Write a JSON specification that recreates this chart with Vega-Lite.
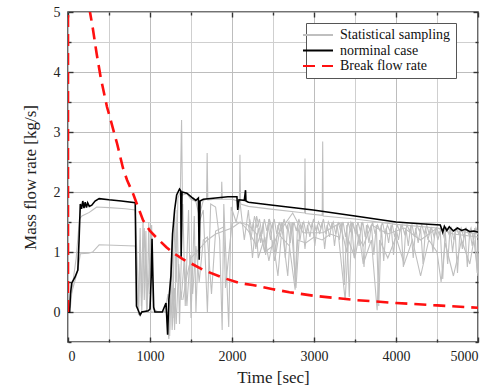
{
  "$schema": "https://vega.github.io/schema/vega-lite/v6.json",
  "autosize": {"type": "none"},
  "width": 410,
  "height": 330,
  "padding": {"left": 68, "top": 12, "right": 13, "bottom": 49},
  "background": "white",
  "config": {
    "font": "Liberation Serif",
    "view": {"stroke": "#444", "strokeWidth": 1.6},
    "axis": {
      "domain": false,
      "labelFont": "Liberation Serif",
      "titleFont": "Liberation Serif",
      "labelFontSize": 14,
      "titleFontSize": 17,
      "titleFontWeight": "normal",
      "labelColor": "#222",
      "titleColor": "#222",
      "tickColor": "#333",
      "tickWidth": 1.4,
      "format": "d"
    },
    "legend": {
      "labelFont": "Liberation Serif",
      "labelFontSize": 14,
      "labelColor": "#111"
    }
  },
  "datasets": {
    "gray": [
      {"r":1,"t":0,"v":0},{"r":1,"t":30,"v":0.1},{"r":1,"t":60,"v":0.5},{"r":1,"t":100,"v":0.9},{"r":1,"t":140,"v":1.55},{"r":1,"t":170,"v":1.6},{"r":1,"t":200,"v":1.62},{"r":1,"t":260,"v":1.66},{"r":1,"t":300,"v":1.7},{"r":1,"t":350,"v":1.75},{"r":1,"t":500,"v":1.74},{"r":1,"t":700,"v":1.72},{"r":1,"t":820,"v":1.7},{"r":1,"t":845,"v":0.8},{"r":1,"t":860,"v":0.05},{"r":1,"t":880,"v":1.4},{"r":1,"t":895,"v":0.1},{"r":1,"t":915,"v":1.55},{"r":1,"t":930,"v":0.2},{"r":1,"t":950,"v":1.35},{"r":1,"t":965,"v":0.0},{"r":1,"t":985,"v":1.5},{"r":1,"t":1000,"v":0.3},{"r":1,"t":1020,"v":1.45},{"r":1,"t":1040,"v":0.05},{"r":1,"t":1100,"v":0.0},{"r":1,"t":1180,"v":0.0},{"r":1,"t":1220,"v":0.3},{"r":1,"t":1240,"v":-0.3},{"r":1,"t":1260,"v":0.9},{"r":1,"t":1280,"v":-0.1},{"r":1,"t":1300,"v":1.7},{"r":1,"t":1320,"v":0.5},{"r":1,"t":1340,"v":1.9},{"r":1,"t":1370,"v":2.0},{"r":1,"t":1385,"v":3.2},{"r":1,"t":1395,"v":1.95},{"r":1,"t":1450,"v":1.97},{"r":1,"t":1500,"v":1.88},{"r":1,"t":1560,"v":1.84},{"r":1,"t":1600,"v":1.6},{"r":1,"t":1650,"v":1.86},{"r":1,"t":1690,"v":1.88},{"r":1,"t":1697,"v":2.65},{"r":1,"t":1705,"v":1.87},{"r":1,"t":1800,"v":1.88},{"r":1,"t":1870,"v":1.88},{"r":1,"t":1875,"v":2.17},{"r":1,"t":1882,"v":1.88},{"r":1,"t":2000,"v":1.88},{"r":1,"t":2090,"v":1.84},{"r":1,"t":2097,"v":2.62},{"r":1,"t":2105,"v":1.8},{"r":1,"t":2200,"v":1.76},{"r":1,"t":2500,"v":1.71},{"r":1,"t":2885,"v":1.65},{"r":1,"t":2890,"v":2.56},{"r":1,"t":2897,"v":1.64},{"r":1,"t":3100,"v":1.61},{"r":1,"t":3106,"v":2.84},{"r":1,"t":3112,"v":1.6},{"r":1,"t":3500,"v":1.55},{"r":1,"t":4000,"v":1.46},{"r":1,"t":4500,"v":1.4},{"r":1,"t":5000,"v":1.3},
      {"r":2,"t":0,"v":0},{"r":2,"t":40,"v":0.3},{"r":2,"t":80,"v":0.5},{"r":2,"t":120,"v":0.7},{"r":2,"t":150,"v":0.97},{"r":2,"t":250,"v":0.98},{"r":2,"t":300,"v":1.0},{"r":2,"t":380,"v":1.12},{"r":2,"t":820,"v":1.1},{"r":2,"t":840,"v":0.4},{"r":2,"t":860,"v":-0.05},{"r":2,"t":880,"v":1.2},{"r":2,"t":900,"v":0.0},{"r":2,"t":930,"v":1.4},{"r":2,"t":960,"v":0.0},{"r":2,"t":1000,"v":0.9},{"r":2,"t":1010,"v":0.0},{"r":2,"t":1200,"v":0.0},{"r":2,"t":1230,"v":-0.45},{"r":2,"t":1250,"v":0.6},{"r":2,"t":1270,"v":-0.3},{"r":2,"t":1300,"v":0.4},{"r":2,"t":1320,"v":-0.2},{"r":2,"t":1350,"v":0.8},{"r":2,"t":1380,"v":0.2},{"r":2,"t":1420,"v":0.9},{"r":2,"t":1450,"v":0.1},{"r":2,"t":1490,"v":0.95},{"r":2,"t":1520,"v":0.3},{"r":2,"t":1560,"v":1.1},{"r":2,"t":1600,"v":0.5},{"r":2,"t":1650,"v":1.2},{"r":2,"t":1700,"v":1.25},{"r":2,"t":1750,"v":0.3},{"r":2,"t":1800,"v":1.35},{"r":2,"t":1900,"v":1.42},{"r":2,"t":1920,"v":0.4},{"r":2,"t":2000,"v":1.48},{"r":2,"t":2060,"v":1.5},{"r":2,"t":2200,"v":1.45},{"r":2,"t":2300,"v":1.3},{"r":2,"t":2320,"v":0.9},{"r":2,"t":2400,"v":1.25},{"r":2,"t":2450,"v":0.85},{"r":2,"t":2500,"v":1.2},{"r":2,"t":2560,"v":0.6},{"r":2,"t":2600,"v":1.25},{"r":2,"t":2700,"v":1.1},{"r":2,"t":2770,"v":0.37},{"r":2,"t":2800,"v":1.2},{"r":2,"t":2900,"v":1.15},{"r":2,"t":3000,"v":1.25},{"r":2,"t":3100,"v":1.2},{"r":2,"t":3200,"v":1.3},{"r":2,"t":3300,"v":1.25},{"r":2,"t":3380,"v":0.2},{"r":2,"t":3420,"v":1.2},{"r":2,"t":3500,"v":0.9},{"r":2,"t":3550,"v":1.3},{"r":2,"t":3600,"v":0.8},{"r":2,"t":3700,"v":1.2},{"r":2,"t":3770,"v":0.03},{"r":2,"t":3800,"v":1.2},{"r":2,"t":3900,"v":0.9},{"r":2,"t":4000,"v":1.25},{"r":2,"t":4100,"v":0.8},{"r":2,"t":4200,"v":1.2},{"r":2,"t":4300,"v":0.6},{"r":2,"t":4400,"v":1.2},{"r":2,"t":4500,"v":1.0},{"r":2,"t":4550,"v":0.5},{"r":2,"t":4600,"v":1.15},{"r":2,"t":4700,"v":0.6},{"r":2,"t":4800,"v":1.2},{"r":2,"t":4900,"v":0.8},{"r":2,"t":4950,"v":1.2},{"r":2,"t":5000,"v":0.6},
      {"r":3,"t":1400,"v":0.2},{"r":3,"t":1450,"v":0.6},{"r":3,"t":1500,"v":0.9},{"r":3,"t":1600,"v":1.05},{"r":3,"t":1700,"v":1.2},{"r":3,"t":1800,"v":1.3},{"r":3,"t":1900,"v":1.35},{"r":3,"t":2000,"v":1.4},{"r":3,"t":2100,"v":1.5},{"r":3,"t":2200,"v":1.35},{"r":3,"t":2300,"v":1.1},{"r":3,"t":2350,"v":1.3},{"r":3,"t":2400,"v":1.0},{"r":3,"t":2500,"v":1.1},{"r":3,"t":2560,"v":1.3},{"r":3,"t":2740,"v":1.65},{"r":3,"t":2866,"v":1.32},{"r":3,"t":3110,"v":1.32},{"r":3,"t":3317,"v":1.48},{"r":3,"t":3400,"v":1.0},{"r":3,"t":3450,"v":1.5},{"r":3,"t":3600,"v":1.1},{"r":3,"t":3700,"v":1.45},{"r":3,"t":3900,"v":1.3},{"r":3,"t":4100,"v":1.4},{"r":3,"t":4300,"v":1.2},{"r":3,"t":4500,"v":1.4},{"r":3,"t":4700,"v":1.3},{"r":3,"t":5000,"v":1.25},
      {"r":4,"t":1240,"v":-0.4},{"r":4,"t":1270,"v":1.2},{"r":4,"t":1300,"v":-0.3},{"r":4,"t":1330,"v":1.7},{"r":4,"t":1360,"v":-0.2},{"r":4,"t":1400,"v":1.8},{"r":4,"t":1430,"v":0.1},{"r":4,"t":1470,"v":1.7},{"r":4,"t":1500,"v":-0.1},{"r":4,"t":1540,"v":1.6},{"r":4,"t":1560,"v":0.0},{"r":4,"t":1600,"v":1.5},{"r":4,"t":1650,"v":1.7},{"r":4,"t":1700,"v":0.0},{"r":4,"t":1740,"v":1.8},{"r":4,"t":1800,"v":1.75},{"r":4,"t":1850,"v":1.2},{"r":4,"t":1880,"v":-0.3},{"r":4,"t":1900,"v":1.8},{"r":4,"t":1960,"v":-0.25},{"r":4,"t":1990,"v":1.75},{"r":4,"t":2050,"v":1.5},{"r":4,"t":2100,"v":1.8},{"r":4,"t":2150,"v":1.2},{"r":4,"t":2200,"v":1.7},{"r":4,"t":2250,"v":0.9},{"r":4,"t":2300,"v":1.6},{"r":4,"t":2400,"v":1.0},{"r":4,"t":2450,"v":1.55},{"r":4,"t":2520,"v":0.85},{"r":4,"t":2600,"v":1.5},{"r":4,"t":2680,"v":0.6},{"r":4,"t":2720,"v":1.5},{"r":4,"t":2780,"v":0.4},{"r":4,"t":2830,"v":1.45},
      {"r":5,"t":2200,"v":1.45},{"r":5,"t":2230,"v":1.2},{"r":5,"t":2260,"v":1.5},{"r":5,"t":2290,"v":1.05},{"r":5,"t":2320,"v":1.4},{"r":5,"t":2350,"v":1.15},{"r":5,"t":2380,"v":1.5},{"r":5,"t":2410,"v":0.95},{"r":5,"t":2440,"v":1.45},{"r":5,"t":2470,"v":1.2},{"r":5,"t":2500,"v":1.5},{"r":5,"t":2530,"v":1.0},{"r":5,"t":2560,"v":1.45},{"r":5,"t":2590,"v":1.25},{"r":5,"t":2620,"v":1.5},{"r":5,"t":2650,"v":0.9},{"r":5,"t":2680,"v":1.45},{"r":5,"t":2710,"v":1.15},{"r":5,"t":2740,"v":1.5},{"r":5,"t":2770,"v":0.5},{"r":5,"t":2800,"v":1.45},{"r":5,"t":2830,"v":1.2},{"r":5,"t":2860,"v":1.5},{"r":5,"t":2890,"v":1.05},{"r":5,"t":2920,"v":1.45},{"r":5,"t":2950,"v":1.25},{"r":5,"t":2980,"v":1.5},{"r":5,"t":3010,"v":1.1},{"r":5,"t":3040,"v":1.45},{"r":5,"t":3070,"v":1.3},{"r":5,"t":3100,"v":1.5},{"r":5,"t":3130,"v":1.05},{"r":5,"t":3160,"v":1.45},{"r":5,"t":3190,"v":1.25},{"r":5,"t":3220,"v":1.5},{"r":5,"t":3250,"v":1.1},{"r":5,"t":3280,"v":1.45},{"r":5,"t":3310,"v":1.2},{"r":5,"t":3340,"v":1.5},{"r":5,"t":3370,"v":0.45},{"r":5,"t":3400,"v":1.45},{"r":5,"t":3430,"v":0.25},{"r":5,"t":3460,"v":1.5},{"r":5,"t":3490,"v":0.9},{"r":5,"t":3520,"v":1.45},{"r":5,"t":3550,"v":1.1},{"r":5,"t":3580,"v":1.5},{"r":5,"t":3610,"v":0.75},{"r":5,"t":3640,"v":1.45},{"r":5,"t":3670,"v":1.15},{"r":5,"t":3700,"v":1.45},{"r":5,"t":3730,"v":0.95},{"r":5,"t":3760,"v":1.45},{"r":5,"t":3790,"v":0.1},{"r":5,"t":3820,"v":1.45},{"r":5,"t":3850,"v":0.85},{"r":5,"t":3880,"v":1.4},{"r":5,"t":3910,"v":1.15},{"r":5,"t":3940,"v":1.45},{"r":5,"t":3970,"v":0.95},{"r":5,"t":4000,"v":1.4},{"r":5,"t":4030,"v":1.2},{"r":5,"t":4060,"v":1.45},{"r":5,"t":4090,"v":0.75},{"r":5,"t":4120,"v":1.4},{"r":5,"t":4150,"v":1.1},{"r":5,"t":4180,"v":1.45},{"r":5,"t":4210,"v":0.9},{"r":5,"t":4240,"v":1.4},{"r":5,"t":4270,"v":1.15},{"r":5,"t":4300,"v":1.4},{"r":5,"t":4330,"v":0.8},{"r":5,"t":4360,"v":1.4},{"r":5,"t":4390,"v":1.2},{"r":5,"t":4420,"v":1.4},{"r":5,"t":4450,"v":1.0},{"r":5,"t":4480,"v":1.4},{"r":5,"t":4510,"v":1.2},{"r":5,"t":4540,"v":1.35},{"r":5,"t":4570,"v":0.55},{"r":5,"t":4600,"v":1.35},{"r":5,"t":4630,"v":0.8},{"r":5,"t":4660,"v":1.4},{"r":5,"t":4690,"v":1.0},{"r":5,"t":4720,"v":1.35},{"r":5,"t":4750,"v":0.65},{"r":5,"t":4780,"v":1.35},{"r":5,"t":4810,"v":1.05},{"r":5,"t":4840,"v":1.35},{"r":5,"t":4870,"v":0.75},{"r":5,"t":4900,"v":1.35},{"r":5,"t":4930,"v":1.1},{"r":5,"t":4960,"v":1.4},{"r":5,"t":4990,"v":0.65},{"r":5,"t":5000,"v":1.2},
      {"r":6,"t":2215,"v":1.55},{"r":6,"t":2245,"v":1.35},{"r":6,"t":2275,"v":1.6},{"r":6,"t":2305,"v":1.4},{"r":6,"t":2335,"v":1.55},{"r":6,"t":2365,"v":1.3},{"r":6,"t":2395,"v":1.55},{"r":6,"t":2425,"v":1.35},{"r":6,"t":2455,"v":1.55},{"r":6,"t":2485,"v":1.4},{"r":6,"t":2515,"v":1.55},{"r":6,"t":2545,"v":1.3},{"r":6,"t":2575,"v":1.5},{"r":6,"t":2605,"v":1.35},{"r":6,"t":2635,"v":1.55},{"r":6,"t":2665,"v":1.4},{"r":6,"t":2695,"v":1.5},{"r":6,"t":2725,"v":1.3},{"r":6,"t":2755,"v":1.5},{"r":6,"t":2785,"v":1.35},{"r":6,"t":2815,"v":1.55},{"r":6,"t":2845,"v":1.4},{"r":6,"t":2875,"v":1.5},{"r":6,"t":2905,"v":1.3},{"r":6,"t":2935,"v":1.5},{"r":6,"t":2965,"v":1.4},{"r":6,"t":2995,"v":1.55},{"r":6,"t":3025,"v":1.35},{"r":6,"t":3055,"v":1.5},{"r":6,"t":3085,"v":1.4},{"r":6,"t":3115,"v":1.55},{"r":6,"t":3145,"v":1.3},{"r":6,"t":3175,"v":1.5},{"r":6,"t":3205,"v":1.4},{"r":6,"t":3235,"v":1.5},{"r":6,"t":3265,"v":1.3},{"r":6,"t":3295,"v":1.5},{"r":6,"t":3325,"v":1.35},{"r":6,"t":3355,"v":1.5},{"r":6,"t":3385,"v":1.25},{"r":6,"t":3415,"v":1.5},{"r":6,"t":3445,"v":1.35},{"r":6,"t":3475,"v":1.5},{"r":6,"t":3505,"v":1.3},{"r":6,"t":3535,"v":1.5},{"r":6,"t":3565,"v":1.35},{"r":6,"t":3595,"v":1.5},{"r":6,"t":3625,"v":1.25},{"r":6,"t":3655,"v":1.45},{"r":6,"t":3685,"v":1.35},{"r":6,"t":3715,"v":1.5},{"r":6,"t":3745,"v":1.3},{"r":6,"t":3775,"v":1.45},{"r":6,"t":3805,"v":1.35},{"r":6,"t":3835,"v":1.5},{"r":6,"t":3865,"v":1.3},{"r":6,"t":3895,"v":1.45},{"r":6,"t":3925,"v":1.35},{"r":6,"t":3955,"v":1.45},{"r":6,"t":3985,"v":1.25},{"r":6,"t":4015,"v":1.45},{"r":6,"t":4045,"v":1.35},{"r":6,"t":4075,"v":1.45},{"r":6,"t":4105,"v":1.3},{"r":6,"t":4135,"v":1.45},{"r":6,"t":4165,"v":1.35},{"r":6,"t":4195,"v":1.45},{"r":6,"t":4225,"v":1.25},{"r":6,"t":4255,"v":1.45},{"r":6,"t":4285,"v":1.35},{"r":6,"t":4315,"v":1.45},{"r":6,"t":4345,"v":1.3},{"r":6,"t":4375,"v":1.45},{"r":6,"t":4405,"v":1.3},{"r":6,"t":4435,"v":1.4},{"r":6,"t":4465,"v":1.25},{"r":6,"t":4495,"v":1.4},{"r":6,"t":4525,"v":1.3},{"r":6,"t":4555,"v":1.4},{"r":6,"t":4585,"v":1.25},{"r":6,"t":4615,"v":1.4},{"r":6,"t":4645,"v":1.3},{"r":6,"t":4675,"v":1.4},{"r":6,"t":4705,"v":1.2},{"r":6,"t":4735,"v":1.4},{"r":6,"t":4765,"v":1.3},{"r":6,"t":4795,"v":1.4},{"r":6,"t":4825,"v":1.25},{"r":6,"t":4855,"v":1.4},{"r":6,"t":4885,"v":1.3},{"r":6,"t":4915,"v":1.4},{"r":6,"t":4945,"v":1.2},{"r":6,"t":4975,"v":1.4},{"r":6,"t":5000,"v":1.3}
    ],
    "black": [
      {"t":0,"v":0},{"t":20,"v":0.0},{"t":30,"v":0.3},{"t":45,"v":0.48},{"t":85,"v":0.58},{"t":120,"v":0.7},{"t":135,"v":1.2},{"t":150,"v":1.8},{"t":165,"v":1.72},{"t":180,"v":1.85},{"t":195,"v":1.73},{"t":210,"v":1.83},{"t":225,"v":1.74},{"t":240,"v":1.82},{"t":260,"v":1.76},{"t":290,"v":1.78},{"t":330,"v":1.85},{"t":380,"v":1.89},{"t":500,"v":1.87},{"t":650,"v":1.85},{"t":820,"v":1.82},{"t":835,"v":0.1},{"t":850,"v":0.05},{"t":880,"v":-0.05},{"t":900,"v":0.0},{"t":980,"v":0.02},{"t":1000,"v":0.05},{"t":1015,"v":0.6},{"t":1025,"v":1.22},{"t":1035,"v":0.6},{"t":1045,"v":0.08},{"t":1060,"v":0.0},{"t":1150,"v":0.0},{"t":1180,"v":0.1},{"t":1195,"v":0.15},{"t":1205,"v":-0.1},{"t":1215,"v":-0.38},{"t":1230,"v":0.2},{"t":1255,"v":0.6},{"t":1275,"v":1.3},{"t":1300,"v":1.7},{"t":1325,"v":1.95},{"t":1360,"v":2.05},{"t":1375,"v":2.02},{"t":1380,"v":0.92},{"t":1390,"v":2.0},{"t":1450,"v":1.98},{"t":1520,"v":1.9},{"t":1560,"v":1.86},{"t":1590,"v":1.9},{"t":1600,"v":0.87},{"t":1610,"v":1.85},{"t":1650,"v":1.88},{"t":1800,"v":1.9},{"t":1950,"v":1.92},{"t":2060,"v":1.92},{"t":2070,"v":1.7},{"t":2085,"v":1.87},{"t":2150,"v":1.86},{"t":2165,"v":2.03},{"t":2170,"v":1.85},{"t":2200,"v":1.83},{"t":2500,"v":1.78},{"t":2990,"v":1.7},{"t":3500,"v":1.6},{"t":4000,"v":1.5},{"t":4300,"v":1.47},{"t":4540,"v":1.45},{"t":4570,"v":1.33},{"t":4590,"v":1.43},{"t":4620,"v":1.36},{"t":4650,"v":1.42},{"t":4700,"v":1.35},{"t":4750,"v":1.4},{"t":4800,"v":1.36},{"t":4850,"v":1.38},{"t":4900,"v":1.34},{"t":4950,"v":1.35},{"t":5000,"v":1.33}
    ],
    "red": [
      {"t":0,"v":0},{"t":0,"v":60},{"t":100,"v":14},{"t":200,"v":7},{"t":268,"v":5.0},{"t":300,"v":4.75},{"t":350,"v":4.3},{"t":400,"v":3.9},{"t":475,"v":3.42},{"t":520,"v":3.2},{"t":600,"v":2.8},{"t":670,"v":2.4},{"t":720,"v":2.2},{"t":800,"v":1.95},{"t":840,"v":1.8},{"t":915,"v":1.53},{"t":1000,"v":1.35},{"t":1085,"v":1.23},{"t":1200,"v":1.08},{"t":1300,"v":0.97},{"t":1400,"v":0.88},{"t":1500,"v":0.81},{"t":1650,"v":0.7},{"t":1890,"v":0.57},{"t":2100,"v":0.48},{"t":2250,"v":0.45},{"t":2500,"v":0.38},{"t":2700,"v":0.33},{"t":3000,"v":0.27},{"t":3500,"v":0.2},{"t":4000,"v":0.15},{"t":4500,"v":0.11},{"t":5000,"v":0.07}
    ]
  },
  "resolve": {"axis": {"x": "independent", "y": "independent"}},
  "layer": [
    {
      "data": {"name": "gray"},
      "mark": {"type": "line", "clip": true, "strokeWidth": 1.1},
      "encoding": {
        "x": {"field": "t", "type": "quantitative", "scale": {"domain": [0, 5000], "nice": false, "zero": false},
          "axis": {"orient": "bottom", "values": [0,1000,2000,3000,4000,5000], "format": "d", "title": "Time [sec]", "grid": true, "gridColor": "#bdbdbd", "gridWidth": 1, "tickSize": -5, "labelPadding": 12, "titlePadding": 6}},
        "y": {"field": "v", "type": "quantitative", "scale": {"domain": [-0.5, 5], "nice": false, "zero": false},
          "axis": {"orient": "left", "values": [0,1,2,3,4,5], "format": "d", "title": "Mass flow rate [kg/s]", "grid": true, "gridColor": "#bdbdbd", "gridWidth": 1, "tickSize": -5, "labelPadding": 13, "titlePadding": 14}},
        "detail": {"field": "r", "type": "nominal"},
        "color": {"datum": "Statistical sampling", "type": "nominal",
          "scale": {"domain": ["Statistical sampling", "norminal case", "Break flow rate"], "range": ["#bfbfbf", "#000000", "#ff1010"]},
          "legend": {"title": null, "orient": "none", "legendX": 238, "legendY": 11, "strokeColor": "#555", "fillColor": "white", "padding": 5, "symbolType": "M-3,0H3", "symbolSize": 100, "symbolStrokeWidth": 2, "labelOffset": 15, "rowPadding": 1.5, "labelFont": "Liberation Serif", "labelFontSize": 14,
            "encode": {"symbols": {"update": {"strokeDash": {"signal": "datum.value === 'Break flow rate' ? [12, 7] : [1, 0]"}}}}}}
      }
    },
    {
      "data": {"name": "black"},
      "mark": {"type": "line", "clip": true, "strokeWidth": 1.6},
      "encoding": {
        "x": {"field": "t", "type": "quantitative",
          "axis": {"orient": "bottom", "values": [500,1500,2500,3500,4500], "labels": false, "title": null, "grid": true, "gridColor": "#cfcfcf", "tickSize": -3,
            "encode": {"grid": {"update": {"strokeDash": {"value": [1, 2]}}}}}},
        "y": {"field": "v", "type": "quantitative",
          "axis": {"orient": "left", "values": [-0.5,0.5,1.5,2.5,3.5,4.5], "labels": false, "title": null, "grid": true, "gridColor": "#cfcfcf", "tickSize": -3,
            "encode": {"grid": {"update": {"strokeDash": {"value": [1, 2]}}}}}},
        "color": {"datum": "norminal case", "type": "nominal"}
      }
    },
    {
      "data": {"name": "red"},
      "mark": {"type": "line", "clip": true, "strokeWidth": 2.6, "strokeDash": [12, 7]},
      "encoding": {
        "x": {"field": "t", "type": "quantitative",
          "axis": {"orient": "top", "values": [0,1000,2000,3000,4000,5000], "labels": false, "title": null, "grid": false, "tickSize": -5}},
        "y": {"field": "v", "type": "quantitative",
          "axis": {"orient": "right", "values": [0,1,2,3,4,5], "labels": false, "title": null, "grid": false, "tickSize": -5}},
        "color": {"datum": "Break flow rate", "type": "nominal"}
      }
    },
    {
      "data": {"name": "black"},
      "mark": {"type": "line", "opacity": 0},
      "encoding": {
        "x": {"field": "t", "type": "quantitative",
          "axis": {"orient": "top", "values": [500,1500,2500,3500,4500], "labels": false, "title": null, "grid": false, "tickSize": -3}},
        "y": {"field": "v", "type": "quantitative",
          "axis": {"orient": "right", "values": [-0.5,0.5,1.5,2.5,3.5,4.5], "labels": false, "title": null, "grid": false, "tickSize": -3}}
      }
    }
  ]
}
